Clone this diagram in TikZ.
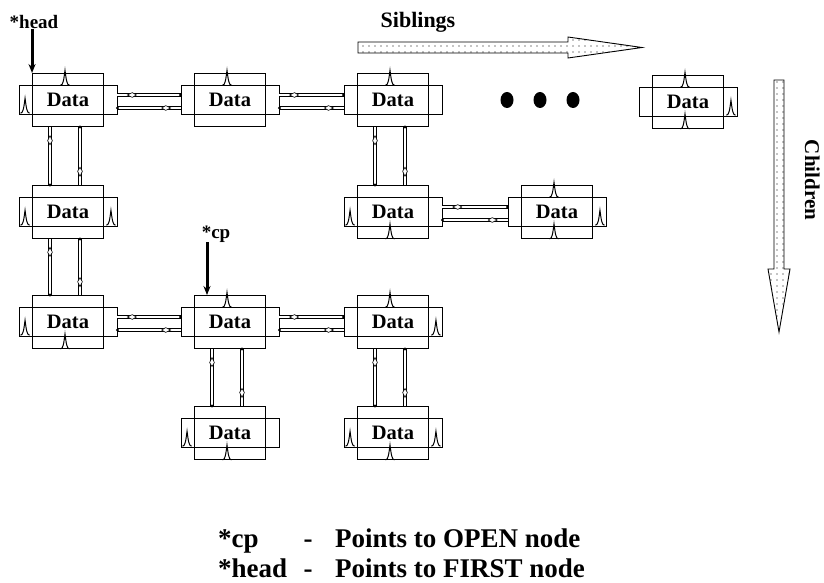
\documentclass[tikz,border=0pt]{standalone}
\usepackage{fontspec}
\setmainfont{Liberation Serif}
\usetikzlibrary{calc,arrows.meta,decorations.markings,patterns}

% sparse dot fill for the two direction arrows
\pgfdeclarepatternformonly{sparsedots}{\pgfpoint{-1pt}{-1pt}}{\pgfpoint{6pt}{6pt}}{\pgfpoint{6pt}{6pt}}%
  {\pgfpathcircle{\pgfpoint{3pt}{3pt}}{0.6pt}\pgfusepath{fill}}

\tikzset{
  vbox/.style={draw, line width=0.9pt, minimum width=71pt, minimum height=53pt, inner sep=0pt},
  hbox/.style={draw, line width=0.9pt, minimum width=98pt, minimum height=28.5pt, inner sep=0pt,
    font=\fontsize{20.5}{24}\selectfont\bfseries},
  link/.style={line width=3.4pt, postaction={draw=white, line width=1.8pt},
    postaction={decorate, decoration={markings,
      mark=at position 0 with {\fill[black] (0,0) circle (1.6pt);},
      mark=at position 0.78 with {\draw[black, fill=white, line width=0.6pt]
        (-5pt,0) -- (-1pt,2.4pt) -- (4pt,0) -- (-1pt,-2.4pt) -- cycle;}}}},
  ptr/.style={line width=3pt, -{Stealth[length=9pt, width=7pt]}},
  lbl/.style={font=\fontsize{19}{22}\selectfont\bfseries, inner sep=0pt},
  bigarrow/.style={draw, line width=0.9pt, pattern=sparsedots},
  legend/.style={font=\fontsize{27}{31}\selectfont\bfseries, inner sep=0pt},
  nil/.pic={\draw[line width=1pt] (-4.5,0) .. controls (-1.8,0) and (-1.2,-6) .. (0,-15)
    .. controls (1.2,-6) and (1.8,0) .. (4.5,0);}
}

% one list cell: tall box with the wide box across it
\newcommand{\dnode}[3]{%
  \node[vbox] (#1) at (#2,#3) {};
  \node[hbox] (#1h) at (#2,#3) {Data};}

\begin{document}
\begin{tikzpicture}[x=1pt, y=-1pt]
\useasboundingbox (0,0) rectangle (824,583);

\dnode{n11}{68}{100}
\dnode{n12}{230}{100}
\dnode{n13}{393}{100}
\dnode{n1e}{688}{102}
\dnode{n21}{68}{212}
\dnode{n23}{393}{212}
\dnode{n24}{557}{212}
\dnode{n31}{68}{322}
\dnode{n32}{230}{322}
\dnode{n33}{393}{322}
\dnode{n42}{230}{433}
\dnode{n43}{393}{433}

% sibling links
\foreach \na/\nb in {n11/n12,n12/n13,n23/n24,n31/n32,n32/n33} {
  \draw[link] ($(\nb h.west)+(0,-5)$) -- ($(\na h.east)+(0,-5)$);
  \draw[link] ($(\na h.east)+(0,8)$) -- ($(\nb h.west)+(0,8)$);
}
% parent / child links
\foreach \na/\nb in {n11/n21,n13/n23,n21/n31,n32/n42,n33/n43} {
  \draw[link] ($(\nb.north)+(-18,0)$) -- ($(\na.south)+(-18,0)$);
  \draw[link] ($(\na.south)+(12,0)$) -- ($(\nb.north)+(12,0)$);
}

% null pointers
\foreach \nd in {n11,n12,n13,n1e,n24,n32,n33} {\pic at ($(\nd h.north)+(-3,0)$) {nil};}
\foreach \nd in {n1e,n23,n24,n31,n42,n43} {\pic at ($(\nd.south)+(-3,0)$) {nil};}
\foreach \nd in {n11,n21,n23,n31,n42,n43} {\pic at ($(\nd h.south west)+(6.5,-1.5)$) {nil};}
\foreach \nd in {n1e,n21,n24,n33,n43} {\pic at ($(\nd h.south east)+(-6.5,-1.5)$) {nil};}

\foreach \x in {507,540,573} {\fill (\x,100) ellipse [x radius=6.5pt, y radius=8pt];}

% pointers
\node[lbl] (hd) at (34,22) {*head};
\draw[ptr] (n11.north west |- hd.south) -- (n11.north west);
\node[lbl] (cp) at (216,234) {*cp};
\coordinate (cpt) at ($(n32.north)+(-23,0)$);
\draw[ptr] (cpt |- cp.south) -- (cpt);

% direction arrows
\node[lbl, font=\fontsize{22}{26}\selectfont\bfseries] (sib) at (418,22) {Siblings};
\draw[bigarrow] (358,42) -- (568,42) -- (568,37) -- (642,47.5) -- (568,58) -- (568,53) -- (358,53) -- cycle;
\node[lbl, font=\fontsize{21}{24}\selectfont\bfseries, rotate=-90, anchor=base] (chl) at (805,180) {Children};
\draw[bigarrow] (774,80) -- (774,269) -- (768,269) -- (779,332) -- (790,269) -- (784,269) -- (784,80) -- cycle;

% legend
\node[legend, anchor=base west] (k1) at (218,547) {*cp};
\node[legend, anchor=base] (d1) at (308,547) {-};
\node[legend, anchor=base west] (t1) at (335,547) {Points to OPEN node};
\node[legend, anchor=base west] (k2) at (218,577) {*head};
\node[legend, anchor=base] (d2) at (308,577) {-};
\node[legend, anchor=base west] (t2) at (335,577) {Points to FIRST node};
\end{tikzpicture}
\end{document}
